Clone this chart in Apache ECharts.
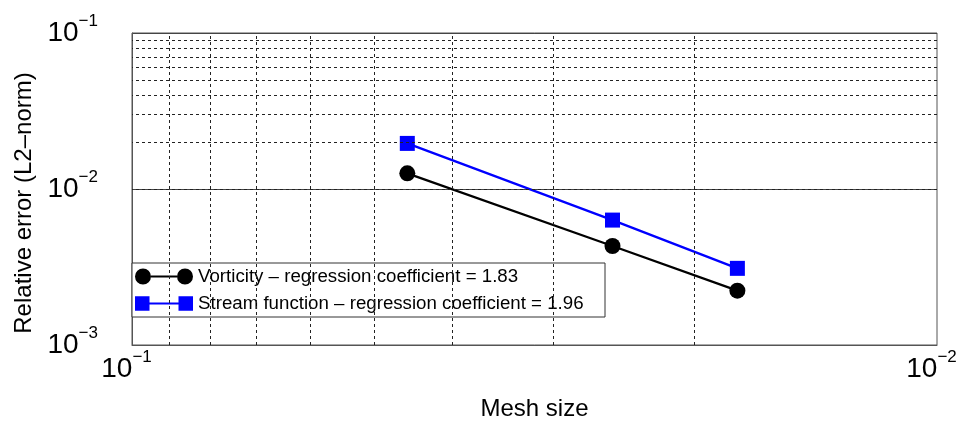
<!DOCTYPE html>
<html>
<head>
<meta charset="utf-8">
<script src="https://cdn.jsdelivr.net/npm/echarts@6/dist/echarts.min.js"></script>
<style>
html,body{margin:0;padding:0;background:#fff;}
#chart{width:962px;height:426px;}
</style>
</head>
<body>
<div id="chart"></div>
<script>
// ---- data ----
var meshSize = [0.0455, 0.0253, 0.0177];
var vorticityError = [0.0126, 0.00431, 0.00223];
var streamError = [0.0196, 0.00632, 0.00310];
var seriesNames = ['Vorticity \u2013 regression coefficient = 1.83', 'Stream function \u2013 regression coefficient = 1.96'];
var xGridValues = [0.09, 0.08, 0.07, 0.06, 0.05, 0.04, 0.03, 0.02];
var yGridValues = [0.002, 0.003, 0.004, 0.005, 0.006, 0.007, 0.008, 0.009,
                   0.02, 0.03, 0.04, 0.05, 0.06, 0.07, 0.08, 0.09];
var xAxisName = 'Mesh size';
var yAxisName = 'Relative error (L2\u2013norm)';

function pairs(xs, ys) { return xs.map(function (x, i) { return [x, ys[i]]; }); }
function expLabel(v) { return '{b|10}{s|\u2212' + Math.abs(Math.round(Math.log10(v))) + '}'; }

var FONT = '"Liberation Sans", Arial, Helvetica, sans-serif';
var labelRich = {
  b: { fontSize: 28, lineHeight: 40, color: '#000', fontFamily: FONT },
  s: { fontSize: 17, lineHeight: 15, verticalAlign: 'top', color: '#000', fontFamily: FONT }
};
var gridLine = { color: '#222', width: 1, type: [3, 3] };

var chart = echarts.init(document.getElementById('chart'), null, { renderer: 'canvas' });
chart.setOption({
  animation: false,
  backgroundColor: '#fff',
  grid: { left: 132, right: 25, top: 33, bottom: 81, show: true, borderColor: '#555', borderWidth: 1, backgroundColor: 'transparent' },
  legend: {
    orient: 'vertical',
    left: 132, top: 263,
    padding: [4, 0, 4, 3],
    itemGap: 8,
    itemWidth: 58, itemHeight: 16,
    backgroundColor: '#fff',
    borderColor: '#333', borderWidth: 1,
    data: [
      { name: seriesNames[0], icon: 'path://M0,8A8,8 0 1 1 16,8A8,8 0 1 1 0,8Z M16,7L42,7L42,9L16,9Z M42,8A8,8 0 1 1 58,8A8,8 0 1 1 42,8Z' },
      { name: seriesNames[1], icon: 'path://M1,1L15,1L15,15L1,15Z M15,7L43,7L43,9L15,9Z M43,1L57,1L57,15L43,15Z' }
    ],
    textStyle: { fontSize: 18.7, fontFamily: FONT, color: '#000', width: 407, lineHeight: 16 },
    selectedMode: false
  },
  xAxis: {
    type: 'log', logBase: 10, min: 0.01, max: 0.1, inverse: true,
    name: xAxisName, nameLocation: 'middle', nameGap: 52,
    nameTextStyle: { fontSize: 24, fontFamily: FONT, color: '#000' },
    axisLine: { show: true, lineStyle: { color: '#555', width: 1 } },
    axisTick: { show: false },
    splitLine: { show: false },
    minorTick: { show: false }, minorSplitLine: { show: false },
    axisLabel: { margin: 4, formatter: expLabel, rich: labelRich, padding: [0, 11, 0, 0], showMinLabel: true, showMaxLabel: true }
  },
  yAxis: {
    type: 'log', logBase: 10, min: 0.001, max: 0.1,
    name: yAxisName, nameLocation: 'middle', nameGap: 95,
    nameTextStyle: { fontSize: 24, fontFamily: FONT, color: '#000', padding: [0, 28, 0, 0] },
    axisLine: { show: true, lineStyle: { color: '#555', width: 1 } },
    axisTick: { show: false },
    splitLine: { show: true, lineStyle: { color: '#444', width: 1, type: 'solid' } },
    minorTick: { show: false }, minorSplitLine: { show: false },
    axisLabel: { margin: 34, formatter: expLabel, rich: labelRich, showMinLabel: true, showMaxLabel: true }
  },
  series: [
    {
      name: '_grid', type: 'line', data: [], silent: true, z: 1,
      markLine: {
        silent: true, symbol: ['none', 'none'], label: { show: false },
        lineStyle: gridLine, animation: false,
        data: xGridValues.map(function (v) { return { xAxis: v }; })
          .concat(yGridValues.map(function (v) { return { yAxis: v }; }))
      }
    },
    {
      name: seriesNames[0], type: 'line', z: 3,
      data: pairs(meshSize, vorticityError),
      symbol: 'circle', symbolSize: 16,
      lineStyle: { color: '#000', width: 2.3 },
      itemStyle: { color: '#000' }
    },
    {
      name: seriesNames[1], type: 'line', z: 3,
      data: pairs(meshSize, streamError),
      symbol: 'rect', symbolSize: 15,
      lineStyle: { color: '#0000ff', width: 2.3 },
      itemStyle: { color: '#0000ff' }
    }
  ]
});
</script>
</body>
</html>
